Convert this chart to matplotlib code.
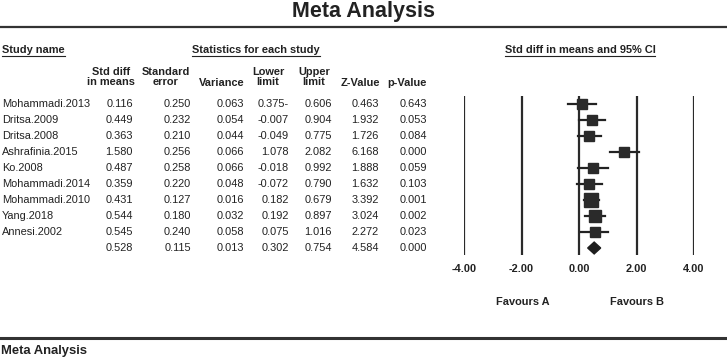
import numpy as np
import matplotlib
matplotlib.use('Agg')
import matplotlib.pyplot as plt
from matplotlib.patches import Polygon

plt.rcParams['font.family'] = ['Liberation Sans', 'DejaVu Sans']

studies = ['Mohammadi.2013', 'Dritsa.2009', 'Dritsa.2008', 'Ashrafinia.2015',
           'Ko.2008', 'Mohammadi.2014', 'Mohammadi.2010', 'Yang.2018',
           'Annesi.2002', '']
std_diff = [0.116, 0.449, 0.363, 1.580, 0.487, 0.359, 0.431, 0.544, 0.545, 0.528]
std_err = [0.250, 0.232, 0.210, 0.256, 0.258, 0.220, 0.127, 0.180, 0.240, 0.115]
variance = [0.063, 0.054, 0.044, 0.066, 0.066, 0.048, 0.016, 0.032, 0.058, 0.013]
lower = [-0.375, -0.007, -0.049, 1.078, -0.018, -0.072, 0.182, 0.192, 0.075, 0.302]
upper = [0.606, 0.904, 0.775, 2.082, 0.992, 0.790, 0.679, 0.897, 1.016, 0.754]
z_val = [0.463, 1.932, 1.726, 6.168, 1.888, 1.632, 3.392, 3.024, 2.272, 4.584]
p_val = [0.643, 0.053, 0.084, 0.000, 0.059, 0.103, 0.001, 0.002, 0.023, 0.000]
ticks = [-4, -2, 0, 2, 4]

W, H = 727, 362
DARK = '#222222'
fig = plt.figure(figsize=(W / 100, H / 100), dpi=100)
bg = fig.add_axes([0, 0, 1, 1])
bg.set_xlim(0, W)
bg.set_ylim(H, 0)
bg.axis('off')

FS = 7.9


def underline(t, y):
    fig.canvas.draw()
    bb = t.get_window_extent()
    inv = bg.transData.inverted()
    x0, _ = inv.transform((bb.x0, bb.y0))
    x1, _ = inv.transform((bb.x1, bb.y0))
    bg.plot([x0, x1], [y, y], color=DARK, lw=0.8)


# Title and rules
bg.text(W / 2, 11, 'Meta Analysis', ha='center', va='center',
        fontsize=15.5, fontweight='bold', color=DARK)
bg.plot([0, W], [27, 27], color='#333333', lw=1.6)
bg.plot([0, W], [338, 338], color='#333333', lw=2.2)
bg.text(1, 351, 'Meta Analysis', ha='left', va='center',
        fontsize=9.4, fontweight='bold', color=DARK)

# Group headers
t = bg.text(2, 50, 'Study name', ha='left', va='center', fontsize=FS,
            fontweight='bold', color=DARK)
underline(t, 55.5)
t = bg.text(256, 50, 'Statistics for each study', ha='center', va='center',
            fontsize=FS, fontweight='bold', color=DARK)
underline(t, 55.5)
t = bg.text(580, 50, 'Std diff in means and 95% CI', ha='center', va='center',
            fontsize=FS, fontweight='bold', color=DARK)
underline(t, 55.5)

# Column headers
hdr = dict(fontsize=FS, fontweight='bold', color=DARK, va='center',
           linespacing=1.1)
bg.text(111, 77, 'Std diff\nin means', ha='center', **hdr)
bg.text(166, 77, 'Standard\nerror', ha='center', **hdr)
bg.text(245, 83, 'Variance', ha='right', **hdr)
bg.text(268, 77, 'Lower\nlimit', ha='center', **hdr)
bg.text(314, 77, 'Upper\nlimit', ha='center', **hdr)
bg.text(380, 83, 'Z-Value', ha='right', **hdr)
bg.text(427, 83, 'p-Value', ha='right', **hdr)

# Table rows
lower_lab = ['%.3f' % v for v in lower]
lower_lab[0] = '0.375-'
cols = [(133, std_diff), (191, std_err), (244, variance), (289, lower_lab),
        (332, upper), (379, z_val), (427, p_val)]
for i, name in enumerate(studies):
    y = 104 + 16 * i
    bg.text(2, y, name, ha='left', va='center', fontsize=FS, color=DARK)
    for x, vals in cols:
        v = vals[i]
        s = v if isinstance(v, str) else '%.3f' % v
        bg.text(x, y, s, ha='right', va='center', fontsize=FS, color=DARK)

# Forest plot
ax = fig.add_axes([464 / W, 1 - 255 / H, 230 / W, 159 / H])
ax.set_xlim(-4, 4)
ax.set_ylim(9.4375, -0.5)
for s in ax.spines.values():
    s.set_visible(False)
ax.set_yticks([])
ax.set_xticks(ticks, ['%.2f' % v for v in ticks])
ax.tick_params(axis='x', length=0, pad=6.5, labelsize=FS, colors=DARK)
for lab in ax.get_xticklabels():
    lab.set_fontweight('bold')
for v in ticks:
    ax.axvline(v, color='#2a2a2a', lw=1.6)

n = len(studies) - 1
for i in range(n):
    w = 1.0 / variance[i]
    side = 8.7 + 0.085 * w
    ax.plot([lower[i], upper[i]], [i, i], color=DARK, lw=1.6)
    ax.plot(std_diff[i], i, marker='s', ms=side * 0.72, color='#2a2a2a',
            mec='#2a2a2a')

# Summary diamond
half_h = 0.37
ax.add_patch(Polygon([(lower[n], n), (std_diff[n], n - half_h),
                      (upper[n], n), (std_diff[n], n + half_h)],
                     closed=True, color='#1e1e1e'))

bg.text(523, 302, 'Favours A', ha='center', va='center', fontsize=FS,
        fontweight='bold', color=DARK)
bg.text(637, 302, 'Favours B', ha='center', va='center', fontsize=FS,
        fontweight='bold', color=DARK)

plt.savefig('out.png', dpi=100)
